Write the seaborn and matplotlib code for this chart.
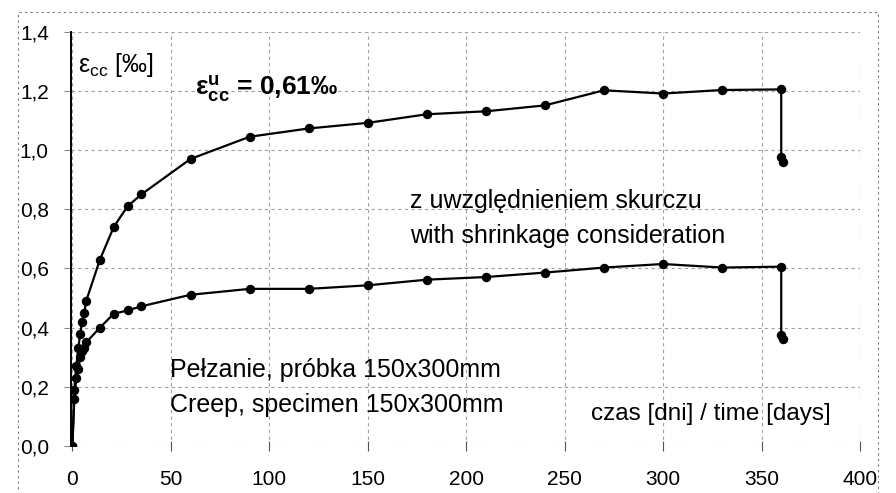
import matplotlib
matplotlib.use("Agg")
import matplotlib.pyplot as plt
import seaborn as sns
import pandas as pd
from matplotlib.patches import Rectangle

# time of measurement [days]
days = [0, 1, 2, 3, 4, 5, 6, 7, 14, 21, 28, 35, 60, 90, 120, 150, 180, 210,
        240, 270, 300, 330, 360, 360, 361]
# total strain with shrinkage [permille]
with_shrinkage = [0.0, 0.19, 0.27, 0.33, 0.38, 0.42, 0.45, 0.49, 0.63, 0.74, 0.81,
                  0.85, 0.97, 1.045, 1.073, 1.092, 1.121, 1.131, 1.151, 1.202,
                  1.191, 1.203, 1.205, 0.975, 0.96]
# creep strain [permille]
creep = [0.0, 0.16, 0.23, 0.26, 0.30, 0.32, 0.33, 0.35, 0.40, 0.447, 0.458,
         0.472, 0.511, 0.531, 0.531, 0.543, 0.562, 0.571, 0.586, 0.603, 0.615,
         0.603, 0.606, 0.375, 0.362]

x_ticks = [0, 50, 100, 150, 200, 250, 300, 350, 400]
y_ticks = [0.0, 0.2, 0.4, 0.6, 0.8, 1.0, 1.2, 1.4]
y_labels = ["0,0", "0,2", "0,4", "0,6", "0,8", "1,0", "1,2", "1,4"]

df = pd.DataFrame({"day": days, "shrink": with_shrinkage, "creep": creep})

sns.set_theme(style="white")
plt.rcParams["font.family"] = ["Liberation Sans", "DejaVu Sans"]
plt.rcParams["text.color"] = "black"
plt.rcParams["xtick.color"] = "black"
plt.rcParams["ytick.color"] = "black"
plt.rcParams["mathtext.fontset"] = "custom"
plt.rcParams["mathtext.rm"] = "Liberation Sans"
plt.rcParams["mathtext.it"] = "Liberation Sans:italic"
plt.rcParams["mathtext.bf"] = "Liberation Sans:bold"

fig = plt.figure(figsize=(8.96, 4.93), dpi=100)
ax = fig.add_axes([71 / 896, 47 / 493, (860 - 71) / 896, (446 - 31.7) / 493])

for col in ["shrink", "creep"]:
    sns.lineplot(data=df, x="day", y=col, ax=ax, color="black", lw=1.6,
                 marker="o", markersize=6.8, markeredgewidth=0,
                 estimator=None, sort=False)

ax.set_xlim(-0.7, 400)
ax.set_ylim(0, 1.4)
ax.set_xticks(x_ticks)
ax.set_yticks(y_ticks)
ax.set_yticklabels(y_labels)
ax.set_xlabel("")
ax.set_ylabel("")
ax.grid(True, color="#a0a0a0", linestyle=(0, (3, 3)), linewidth=0.8)
for s in ["top", "right", "bottom"]:
    ax.spines[s].set_visible(False)
ax.spines["left"].set_color("black")
ax.spines["left"].set_linewidth(1.4)
ax.tick_params(axis="x", direction="inout", length=7, width=0.8, color="#555555",
               labelsize=15, pad=14, bottom=True, labelcolor="black")
ax.tick_params(axis="y", direction="out", length=5, width=0.8, color="#888888",
               labelsize=15, pad=11, left=True, labelcolor="black")

fs = 18
ax.text(3, 1.287, r"$\mathrm{ε}_{\mathrm{cc}}$ [‰]", fontsize=18, va="center", ha="left")
ax.text(62.4, 1.209, r"$\mathbf{ε}_{\mathbf{cc}}^{\mathbf{u}}$ = 0,61‰", fontsize=19,
        fontweight="bold", va="center", ha="left")
ax.text(171.6, 0.828, "z uwzględnieniem skurczu", fontsize=fs, va="center", ha="left")
ax.text(171.6, 0.709, "with shrinkage consideration", fontsize=fs, va="center", ha="left")
ax.text(49.7, 0.257, "Pełzanie, próbka 150x300mm", fontsize=fs, va="center", ha="left")
ax.text(49.7, 0.139, "Creep, specimen 150x300mm", fontsize=fs, va="center", ha="left")
ax.text(263.5, 0.108, "czas [dni] / time [days]", fontsize=17.5, va="center", ha="left")

# outer chart-area frame
fig.patches.append(Rectangle((18 / 896, -0.05), 860 / 896, 1.05 - 12 / 493,
                             transform=fig.transFigure, fill=False,
                             edgecolor="#777777", linewidth=0.8,
                             linestyle=(0, (2, 3))))

fig.savefig("out.png", dpi=100)
